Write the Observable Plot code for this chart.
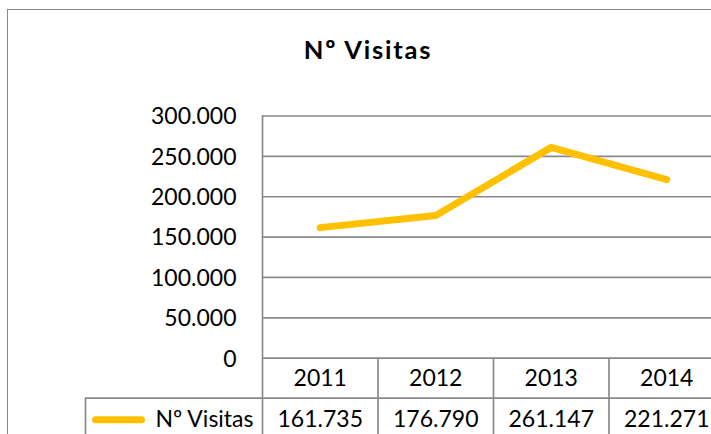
<!DOCTYPE html>
<html>
<head>
<meta charset="utf-8">
<script src="https://cdn.jsdelivr.net/npm/d3@7"></script>
<script src="https://cdn.jsdelivr.net/npm/@observablehq/plot@0.6"></script>
<style>
  html, body { margin: 0; padding: 0; background: #fff; }
  #wrap { position: relative; width: 711px; height: 434px; overflow: hidden; background: #fff; }
  #box { position: absolute; left: 7px; top: 9px; width: 780px; height: 520px; border: 1.6px solid #878787; box-sizing: border-box; }
  #title { position: absolute; left: 1px; width: 734px; top: 37px; text-align: center; font: bold 25.5px Lato, "Open Sans", sans-serif; letter-spacing: 1.8px; line-height: 1; color: #000; }
  #chart { position: absolute; left: 0; top: 0; width: 740px; }
  #chart svg { max-width: none !important; }
</style>
</head>
<body>
<div id="wrap">
  <div id="box"></div>
  <div id="title"></div>
  <div id="chart"></div>
</div>
<script>
const chartTitle = "Nº Visitas";
const seriesName = "Nº Visitas";
const years = ["2011", "2012", "2013", "2014"];
const visitas = [161735, 176790, 261147, 221271];
const yTicks = [0, 50000, 100000, 150000, 200000, 250000, 300000];

const fmt = d3.formatLocale({decimal: ",", thousands: ".", grouping: [3], currency: ["", ""]}).format(",d");
const gridColor = "#8a8a8a";
const gold = "#FFC000";

document.getElementById("title").textContent = chartTitle;

const plot = Plot.plot({
  width: 740,
  height: 434,
  marginLeft: 262,
  marginRight: 16,
  marginTop: 115.5,
  marginBottom: 0,
  style: {fontFamily: "Lato, 'Open Sans', sans-serif", fontSize: "23px", color: "#000", background: "transparent", maxWidth: "none"},
  x: {domain: [0, years.length], axis: null},
  y: {domain: [0, 300000], range: [357.7, 115.5], axis: null},
  marks: [
    // horizontal gridlines
    Plot.ruleY(yTicks, {stroke: gridColor, strokeWidth: 1.7}),
    // left edge of plot area / table
    Plot.ruleX([0], {stroke: gridColor, strokeWidth: 1.7}),
    // table column separators
    Plot.ruleX(d3.range(1, years.length + 1), {y1: 0, y2: 0, insetBottom: -80, stroke: gridColor, strokeWidth: 1.7}),
    // line between header row and value row
    Plot.ruleY([0], {dy: 40, insetLeft: -177, stroke: gridColor, strokeWidth: 1.7}),
    // left edge of the value row (legend cell)
    Plot.ruleX([0], {y1: 0, y2: 0, insetTop: 40, insetBottom: -80, dx: -177, stroke: gridColor, strokeWidth: 1.7}),
    // y tick labels
    Plot.text(yTicks, {x: 0, y: d => d, text: d => fmt(d), dx: -26, dy: 1, textAnchor: "end", fill: "#000"}),
    // the series line
    Plot.line(visitas, {x: (d, i) => i + 0.5, y: d => d, stroke: gold, strokeWidth: 7, strokeLinecap: "round", strokeLinejoin: "round"}),
    // table header (years)
    Plot.text(years, {x: (d, i) => i + 0.5, y: 0, text: d => d, dy: 20.5, fill: "#000"}),
    // table values
    Plot.text(visitas, {x: (d, i) => i + 0.5, y: 0, text: d => fmt(d), dy: 61.5, fill: "#000"}),
    // legend key line
    Plot.ruleY([0], {x1: 0, x2: 0, insetLeft: -166.5, insetRight: 120.5, dy: 61.5, stroke: gold, strokeWidth: 7, strokeLinecap: "round"}),
    // legend label
    Plot.text([seriesName], {x: 0, y: 0, text: d => d, dx: -9, dy: 61.5, textAnchor: "end", fill: "#000", style: "letter-spacing: 0.6px"})
  ]
});
document.getElementById("chart").appendChild(plot);
</script>
</body>
</html>
